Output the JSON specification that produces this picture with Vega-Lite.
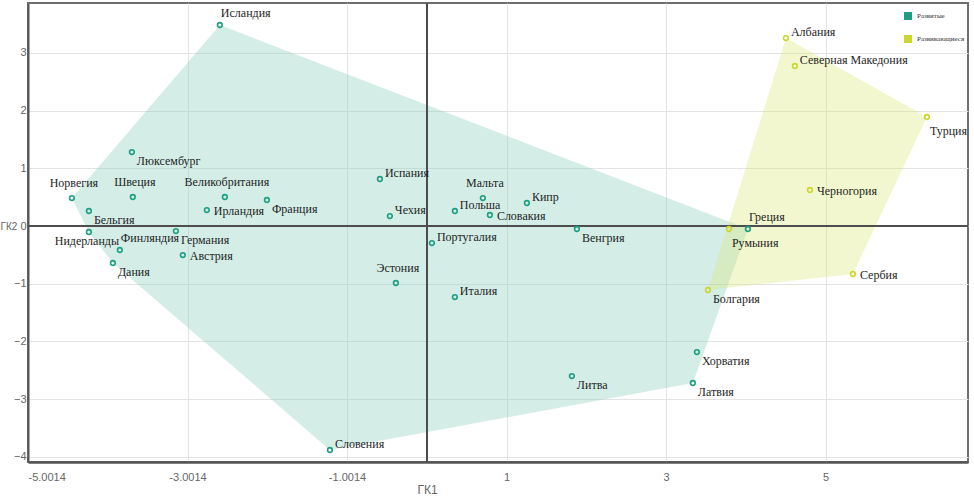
{
  "$schema": "https://vega.github.io/schema/vega-lite/v6.json",
  "width": 940,
  "height": 459,
  "autosize": "none",
  "padding": {"left": 28, "top": 3, "right": 6, "bottom": 39},
  "background": "white",
  "config": {
    "view": {"stroke": "#6e6e6e", "strokeWidth": 2},
    "axis": {
      "labelFont": "Liberation Sans",
      "labelFontSize": 11,
      "labelColor": "#666666",
      "titleFont": "Liberation Sans",
      "titleFontSize": 12,
      "titleFontWeight": "normal",
      "titleColor": "#666666",
      "gridColor": "#e3e3e3",
      "gridWidth": 1,
      "ticks": false,
      "domainColor": "#555555"
    },
    "legend": {
      "labelFont": "Liberation Serif",
      "labelFontSize": 7,
      "labelColor": "#333333"
    },
    "text": {"font": "Liberation Serif", "fontSize": 12, "color": "#1e1e1e", "baseline": "middle"}
  },
  "datasets": {
    "pts": [
      {"country": "Исландия", "group": "Развитые", "x": -2.596, "y": 3.484, "hull": 1},
      {"country": "Люксембург", "group": "Развитые", "x": -3.699, "y": 1.282},
      {"country": "Норвегия", "group": "Развитые", "x": -4.451, "y": 0.485, "hull": 7},
      {"country": "Бельгия", "group": "Развитые", "x": -4.238, "y": 0.26},
      {"country": "Швеция", "group": "Развитые", "x": -3.687, "y": 0.503},
      {"country": "Великобритания", "group": "Развитые", "x": -2.533, "y": 0.503},
      {"country": "Ирландия", "group": "Развитые", "x": -2.759, "y": 0.277},
      {"country": "Франция", "group": "Развитые", "x": -2.006, "y": 0.451},
      {"country": "Нидерланды", "group": "Развитые", "x": -4.238, "y": -0.104, "hull": 6},
      {"country": "Финляндия", "group": "Развитые", "x": -3.85, "y": -0.416},
      {"country": "Германия", "group": "Развитые", "x": -3.147, "y": -0.087},
      {"country": "Австрия", "group": "Развитые", "x": -3.06, "y": -0.503},
      {"country": "Дания", "group": "Развитые", "x": -3.937, "y": -0.641, "hull": 5},
      {"country": "Испания", "group": "Развитые", "x": -0.589, "y": 0.815},
      {"country": "Чехия", "group": "Развитые", "x": -0.464, "y": 0.173},
      {"country": "Эстония", "group": "Развитые", "x": -0.389, "y": -0.988},
      {"country": "Португалия", "group": "Развитые", "x": 0.063, "y": -0.295},
      {"country": "Мальта", "group": "Развитые", "x": 0.702, "y": 0.485},
      {"country": "Польша", "group": "Развитые", "x": 0.351, "y": 0.26},
      {"country": "Кипр", "group": "Развитые", "x": 1.254, "y": 0.399},
      {"country": "Словакия", "group": "Развитые", "x": 0.79, "y": 0.191},
      {"country": "Венгрия", "group": "Развитые", "x": 1.881, "y": -0.052},
      {"country": "Италия", "group": "Развитые", "x": 0.351, "y": -1.231},
      {"country": "Литва", "group": "Развитые", "x": 1.818, "y": -2.6},
      {"country": "Хорватия", "group": "Развитые", "x": 3.386, "y": -2.184},
      {"country": "Латвия", "group": "Развитые", "x": 3.335, "y": -2.721, "hull": 3},
      {"country": "Словения", "group": "Развитые", "x": -1.216, "y": -3.882, "hull": 4},
      {"country": "Греция", "group": "Развитые", "x": 4.025, "y": -0.052, "hull": 2},
      {"country": "Румыния", "group": "Развивающиеся", "x": 3.787, "y": -0.052},
      {"country": "Болгария", "group": "Развивающиеся", "x": 3.524, "y": -1.109, "hull": 4},
      {"country": "Сербия", "group": "Развивающиеся", "x": 5.342, "y": -0.832, "hull": 3},
      {"country": "Черногория", "group": "Развивающиеся", "x": 4.803, "y": 0.624},
      {"country": "Турция", "group": "Развивающиеся", "x": 6.27, "y": 1.889, "hull": 2},
      {"country": "Северная Македония", "group": "Развивающиеся", "x": 4.614, "y": 2.773},
      {"country": "Албания", "group": "Развивающиеся", "x": 4.502, "y": 3.258, "hull": 1}
    ]
  },
  "data": {"name": "pts"},
  "encoding": {
    "x": {
      "field": "x", "type": "quantitative",
      "scale": {"domain": [-5.0014, 6.785], "nice": false, "zero": false},
      "axis": {
        "values": [-5.0014, -3.0014, -1.0014, 1, 3, 5],
        "labelExpr": "'' + datum.value",
        "domainWidth": 2.5,
        "labelPadding": 9,
        "title": "ГК1",
        "titleX": 399,
        "titleAlign": "center",
        "titlePadding": 2
      }
    },
    "y": {
      "field": "y", "type": "quantitative",
      "scale": {"domain": [-4.09, 3.865], "nice": false, "zero": false},
      "axis": {
        "values": [-4, -3, -2, -1, 0, 1, 2, 3],
        "domainWidth": 2,
        "labelPadding": 2,
        "title": "ГК2",
        "titleAngle": 0,
        "titleX": -28,
        "titleY": 223,
        "titleFontSize": 10,
        "titleAlign": "left",
        "titleBaseline": "middle"
      }
    }
  },
  "layer": [
    {
      "transform": [{"filter": "datum.hull != null && datum.group == 'Развитые'"}],
      "mark": {"type": "line", "interpolate": "linear-closed", "fill": "#8fd0bf", "fillOpacity": 0.38, "strokeWidth": 0},
      "encoding": {"order": {"field": "hull", "type": "quantitative"}}
    },
    {
      "transform": [{"filter": "datum.hull != null && datum.group == 'Развивающиеся'"}],
      "mark": {"type": "line", "interpolate": "linear-closed", "fill": "#dbe76a", "fillOpacity": 0.32, "strokeWidth": 0},
      "encoding": {"order": {"field": "hull", "type": "quantitative"}}
    },
    {
      "mark": {"type": "rule", "color": "#4d4d4d", "strokeWidth": 1.3},
      "encoding": {"x": {"datum": 0}, "y": null}
    },
    {
      "mark": {"type": "rule", "color": "#4d4d4d", "strokeWidth": 2},
      "encoding": {"y": {"datum": 0}, "x": null}
    },
    {
      "mark": {"type": "point", "shape": "square", "filled": true, "opacity": 0},
      "encoding": {
        "fill": {
          "field": "group", "type": "nominal",
          "scale": {"domain": ["Развитые", "Развивающиеся"], "range": ["#1f9e82", "#cbd62f"]},
          "legend": {
            "title": null,
            "orient": "none",
            "legendX": 876,
            "legendY": 9,
            "symbolType": "square",
            "symbolSize": 64,
            "symbolStrokeWidth": 0,
            "symbolOpacity": 1,
            "rowPadding": 15,
            "labelOffset": 5
          }
        }
      }
    },
    {
      "mark": {"type": "point", "shape": "circle", "filled": false, "size": 22, "strokeWidth": 1.6, "opacity": 1},
      "encoding": {
        "stroke": {
          "field": "group", "type": "nominal",
          "scale": {"domain": ["Развитые", "Развивающиеся"], "range": ["#1f9e82", "#cbd62f"]},
          "legend": null
        }
      }
    },
    {
      "transform": [{"filter": {"field": "country", "oneOf": ["Люксембург", "Франция", "Германия", "Дания", "Венгрия", "Литва", "Хорватия", "Латвия", "Болгария", "Бельгия"]}}],
      "mark": {"type": "text", "align": "left", "dx": 5, "dy": 9},
      "encoding": {"text": {"field": "country"}}
    },
    {
      "transform": [{"filter": {"field": "country", "oneOf": ["Румыния", "Турция"]}}],
      "mark": {"type": "text", "align": "left", "dx": 3, "dy": 14},
      "encoding": {"text": {"field": "country"}}
    },
    {
      "transform": [{"filter": {"field": "country", "oneOf": ["Ирландия", "Словакия", "Австрия", "Сербия", "Черногория"]}}],
      "mark": {"type": "text", "align": "left", "dx": 7, "dy": 1},
      "encoding": {"text": {"field": "country"}}
    },
    {
      "transform": [{"filter": {"field": "country", "oneOf": ["Испания", "Чехия", "Португалия", "Польша", "Кипр", "Италия", "Словения", "Северная Македония", "Албания"]}}],
      "mark": {"type": "text", "align": "left", "dx": 5, "dy": -6},
      "encoding": {"text": {"field": "country"}}
    },
    {
      "transform": [{"filter": {"field": "country", "oneOf": ["Исландия", "Финляндия", "Греция"]}}],
      "mark": {"type": "text", "align": "left", "dx": 1, "dy": -12},
      "encoding": {"text": {"field": "country"}}
    },
    {
      "transform": [{"filter": {"field": "country", "oneOf": ["Норвегия", "Швеция", "Великобритания", "Мальта", "Эстония"]}}],
      "mark": {"type": "text", "align": "center", "dx": 2, "dy": -15},
      "encoding": {"text": {"field": "country"}}
    },
    {
      "transform": [{"filter": {"field": "country", "oneOf": ["Нидерланды"]}}],
      "mark": {"type": "text", "align": "center", "dx": -2, "dy": 9},
      "encoding": {"text": {"field": "country"}}
    }
  ]
}
